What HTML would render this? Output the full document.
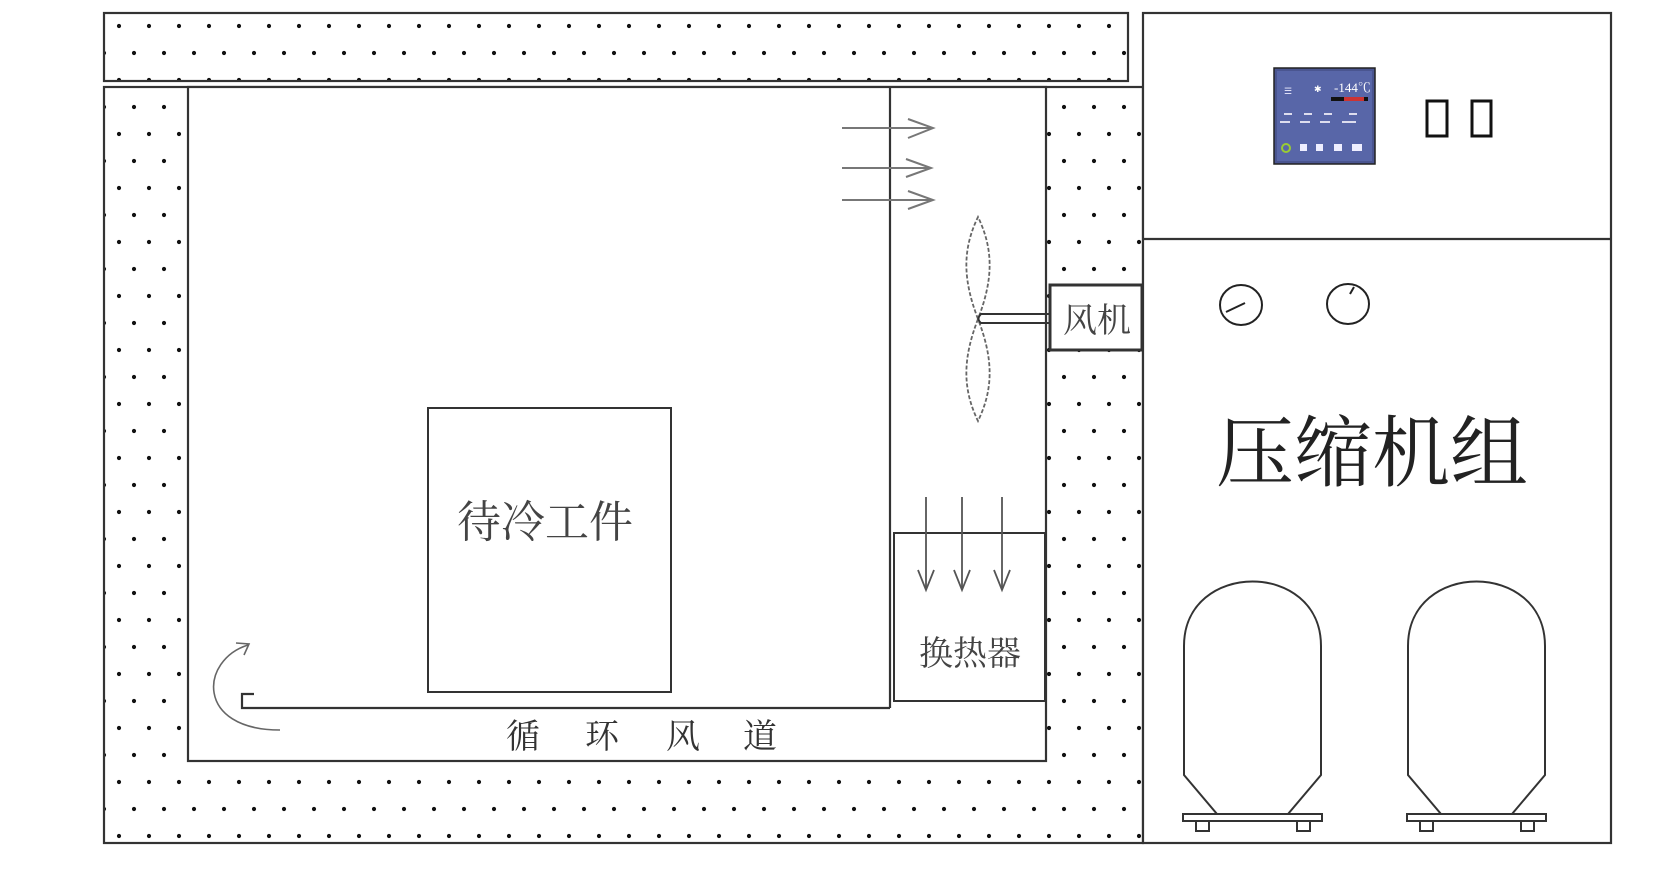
<!DOCTYPE html>
<html><head><meta charset="utf-8"><style>
html,body{margin:0;padding:0;background:#fff;}
svg{display:block}
text{font-family:"Liberation Serif","Noto Serif CJK SC","Noto Sans CJK SC",serif;fill:#333}
</style></head><body>
<svg width="1680" height="870" viewBox="0 0 1680 870" xmlns="http://www.w3.org/2000/svg">
<defs>
<pattern id="dots" x="104" y="13" width="30" height="54" patternUnits="userSpaceOnUse">
<circle cx="15" cy="13" r="2.1" fill="#111"/>
<circle cx="0" cy="40" r="2.1" fill="#111"/>
<circle cx="30" cy="40" r="2.1" fill="#111"/>
</pattern>
</defs>
<g stroke="#333" fill="none" stroke-width="2.2">
<rect x="104" y="13" width="1024" height="68" fill="url(#dots)"/>
<rect x="104" y="87" width="1039" height="756" fill="url(#dots)"/>
<rect x="188" y="87" width="858" height="674" fill="#fff"/>
<line x1="890" y1="87" x2="890" y2="708"/>
<polyline points="254,694 242,694 242,708 890,708"/>
<rect x="428" y="408" width="243" height="284" stroke-width="2"/>
<rect x="894" y="533" width="151" height="168" stroke-width="2"/>
<rect x="1050" y="285" width="92" height="65" fill="#fff" stroke-width="3"/>
<rect x="1143" y="13" width="468" height="830" fill="#fff"/>
<line x1="1143" y1="239" x2="1611" y2="239"/>
</g>
<g stroke="#777" stroke-width="2" fill="none">
<line x1="842" y1="128" x2="933" y2="128"/><polyline points="908,119 933,128 908,138"/>
<line x1="842" y1="168" x2="931" y2="168"/><polyline points="906,159 931,168 906,177"/>
<line x1="842" y1="200" x2="933" y2="200"/><polyline points="908,191 933,200 908,209"/>
</g>
<g stroke="#555" stroke-width="1.8" fill="none">
<line x1="926" y1="497" x2="926" y2="590"/><polyline points="918,570 926,590 934,570"/>
<line x1="962" y1="497" x2="962" y2="590"/><polyline points="954,570 962,590 970,570"/>
<line x1="1002" y1="497" x2="1002" y2="590"/><polyline points="994,570 1002,590 1010,570"/>
</g>
<g stroke="#666" stroke-width="1.8" fill="none" stroke-dasharray="4 2">
<path d="M978,319 C963,280 962,250 978,217 C994,250 993,280 978,319 Z"/>
<path d="M978,319 C963,358 962,388 978,421 C994,388 993,358 978,319 Z"/>
</g>
<g stroke="#333" stroke-width="2" fill="none">
<path d="M1050,314 L981,314 Q976,319 981,323 L1050,323"/>
</g>
<g stroke="#666" stroke-width="1.6" fill="none">
<path d="M248,645 C200,660 195,730 280,730"/>
<polyline points="236,643 249,644 244,655"/>
</g>
<rect x="1274" y="68" width="101" height="96" fill="#4a5590" stroke="#222" stroke-width="1.5"/>
<rect x="1277" y="71" width="95" height="90" fill="#5866a8"/>
<g font-size="9">
<text x="1284" y="94" style="fill:#eef">☰</text>
<text x="1314" y="92" style="fill:#fff">✱</text>
<text x="1334" y="92" style="fill:#fff;font-size:13px">-144℃</text>
</g>
<rect x="1331" y="97" width="37" height="4" fill="#111"/><rect x="1344" y="97" width="20" height="4" fill="#c33"/>
<g fill="#dde">
<rect x="1284" y="113" width="8" height="2"/><rect x="1304" y="113" width="8" height="2"/><rect x="1324" y="113" width="8" height="2"/><rect x="1349" y="113" width="8" height="2"/>
<rect x="1280" y="121" width="10" height="2"/><rect x="1300" y="121" width="10" height="2"/><rect x="1320" y="121" width="10" height="2"/><rect x="1342" y="121" width="14" height="2"/>
</g>
<circle cx="1286" cy="148" r="4" fill="none" stroke="#9c3" stroke-width="2"/>
<g fill="#eef"><rect x="1300" y="144" width="7" height="7"/><rect x="1316" y="144" width="7" height="7"/><rect x="1334" y="144" width="8" height="7"/><rect x="1352" y="144" width="10" height="7"/></g>
<g stroke="#111" stroke-width="3" fill="none">
<rect x="1427" y="101" width="20" height="35"/>
<rect x="1472" y="101" width="19" height="35"/>
</g>
<g stroke="#222" stroke-width="2" fill="none">
<ellipse cx="1241" cy="305" rx="21" ry="20"/>
<line x1="1226" y1="312" x2="1245" y2="303"/>
<ellipse cx="1348" cy="304" rx="21" ry="20"/>
<line x1="1350" y1="294" x2="1354" y2="287"/>
</g>
<g stroke="#333" stroke-width="2" fill="none">
<path d="M1184,775 L1184,646 C1184,560 1321,560 1321,646 L1321,775 L1288,814 L1217,814 Z"/>
<rect x="1183" y="814" width="139" height="7"/>
<rect x="1196" y="821" width="13" height="10"/><rect x="1297" y="821" width="13" height="10"/>
<path d="M1408,775 L1408,646 C1408,560 1545,560 1545,646 L1545,775 L1512,814 L1441,814 Z"/>
<rect x="1407" y="814" width="139" height="7"/>
<rect x="1420" y="821" width="13" height="10"/><rect x="1521" y="821" width="13" height="10"/>
</g>
<text x="545" y="537" font-size="44" text-anchor="middle" style="fill:#444">待冷工件</text>
<text x="970" y="665" font-size="34" text-anchor="middle" style="fill:#444">换热器</text>
<text x="1097" y="332" font-size="34" text-anchor="middle" style="fill:#444">风机</text>
<text x="1372" y="480" font-size="78" text-anchor="middle" style="fill:#222">压缩机组</text>
<g font-size="34" text-anchor="middle" style="fill:#555">
<text x="523" y="748">循</text><text x="602" y="748">环</text><text x="683" y="748">风</text><text x="760" y="748">道</text>
</g>
</svg>
</body></html>
